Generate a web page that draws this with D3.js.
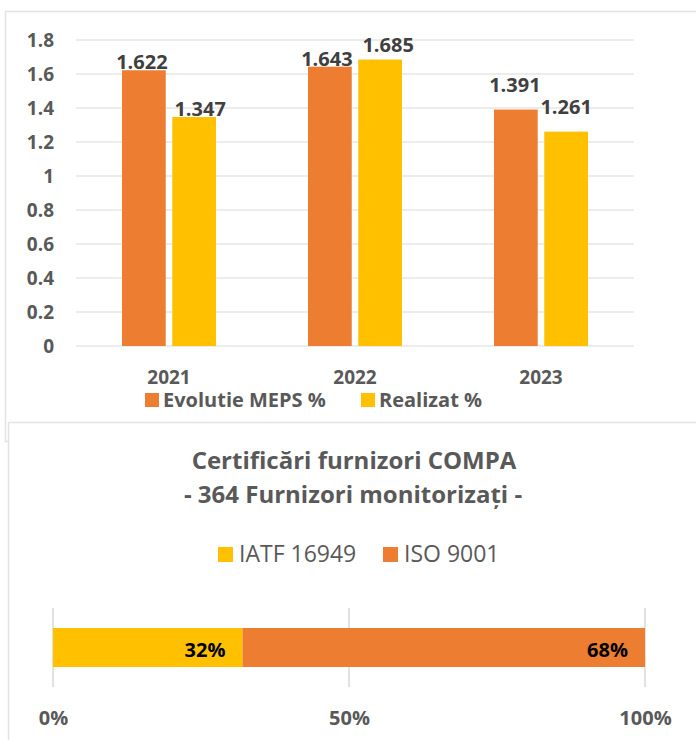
<!DOCTYPE html>
<html>
<head>
<meta charset="utf-8">
<script src="https://cdn.jsdelivr.net/npm/d3@7"></script>
<style>
  body { margin: 0; background: #fff; }
  text { font-family: "Open Sans", sans-serif; }
</style>
</head>
<body>
<script>
// top chart data
const years = ["2021", "2022", "2023"];
const seriesNames = ["Evolutie MEPS %", "Realizat %"];
const meps = [1.622, 1.643, 1.391];
const realizat = [1.347, 1.685, 1.261];
const yTicks = [0, 0.2, 0.4, 0.6, 0.8, 1, 1.2, 1.4, 1.6, 1.8];

// bottom chart data
const certNames = ["IATF 16949", "ISO 9001"];
const certShares = [0.32, 0.68];
const pctTicks = [0, 0.5, 1];

const orange = "#ED7D31", yellow = "#FFC000";
const gray = "#595959", gridColor = "#d9d9d9", frameColor = "#e3e3e3";

// label nudges [series][year]
const labelLift = [[1, 1, 18], [1, 8, 18]];
const labelShift = [[-2, -3, -1], [6, 8, 0]];

const W = 696, H = 740;
const svg = d3.select("body").append("svg")
    .attr("width", W).attr("height", H);

// frame of the top chart
svg.append("rect")
    .attr("x", 5.5).attr("y", 11.5)
    .attr("width", W).attr("height", 430)
    .attr("fill", "#fff").attr("stroke", frameColor).attr("stroke-width", 1.5);

// ---------- column chart ----------
const x0 = d3.scaleBand().domain(years).range([76, 634]);
const x1 = d3.scaleBand().domain(seriesNames).range([0, 94]).paddingInner(0.13);
const y = d3.scaleLinear().domain([0, 1.8]).range([346, 40]);

const colChart = svg.append("g");

colChart.append("g")
    .selectAll("line")
    .data(yTicks)
    .join("line")
    .attr("x1", 76).attr("x2", 634)
    .attr("y1", d => y(d)).attr("y2", d => y(d))
    .attr("stroke", gridColor).attr("stroke-width", 1.2);

const yAxis = colChart.append("g")
    .attr("transform", "translate(54,0)")
    .call(d3.axisLeft(y).tickValues(yTicks).tickSize(0).tickPadding(0).tickFormat(d3.format("")));
yAxis.select(".domain").remove();
yAxis.selectAll(".tick text")
    .attr("fill", gray)
    .style("font-size", "19px").style("font-weight", "bold")
    .attr("dy", "0.36em");

const xAxis = colChart.append("g")
    .attr("transform", "translate(0,346)")
    .call(d3.axisBottom(x0).tickSize(0).tickPadding(0));
xAxis.select(".domain").remove();
xAxis.selectAll(".tick text")
    .attr("fill", gray)
    .style("font-size", "19px").style("font-weight", "bold")
    .attr("y", 38).attr("dy", 0);

const series = [meps, realizat];
const colors = [orange, yellow];

series.forEach((vals, s) => {
    const g = colChart.append("g");
    const off = x0.bandwidth() / 2 - 47;
    g.selectAll("rect")
        .data(vals)
        .join("rect")
        .attr("x", (d, i) => x0(years[i]) + off + x1(seriesNames[s]))
        .attr("y", d => y(d))
        .attr("width", x1.bandwidth())
        .attr("height", d => y(0) - y(d))
        .attr("fill", colors[s]);
    g.selectAll("text")
        .data(vals)
        .join("text")
        .attr("x", (d, i) => x0(years[i]) + off + x1(seriesNames[s]) + x1.bandwidth() / 2 + labelShift[s][i])
        .attr("y", (d, i) => y(d) - labelLift[s][i])
        .attr("text-anchor", "middle")
        .attr("fill", "#404040")
        .style("font-size", "20px").style("font-weight", "bold")
        .text(d => d3.format(".3f")(d));
});

// legend top
const legTop = colChart.append("g");
const legX = [145, 361];
seriesNames.forEach((n, i) => {
    legTop.append("rect")
        .attr("x", legX[i]).attr("y", 393)
        .attr("width", 14).attr("height", 14)
        .attr("fill", colors[i]);
    legTop.append("text")
        .attr("x", legX[i] + 18).attr("y", 407)
        .attr("fill", gray)
        .style("font-size", "20px").style("font-weight", "bold")
        .text(n);
});

// ---------- stacked bar chart ----------
svg.append("rect")
    .attr("x", 8.5).attr("y", 422.5)
    .attr("width", W).attr("height", H)
    .attr("fill", "#fff").attr("stroke", frameColor).attr("stroke-width", 1.5);

const bot = svg.append("g");

bot.append("text")
    .attr("x", 354).attr("y", 469)
    .attr("text-anchor", "middle")
    .attr("fill", gray)
    .style("font-size", "24px").style("font-weight", "bold")
    .text("Certificări furnizori COMPA");
bot.append("text")
    .attr("x", 353).attr("y", 503)
    .attr("text-anchor", "middle")
    .attr("fill", gray)
    .style("font-size", "24px").style("font-weight", "bold")
    .text("- 364 Furnizori monitorizați -");

const certColors = [yellow, orange];
const leg2X = [218, 383];
certNames.forEach((n, i) => {
    bot.append("rect")
        .attr("x", leg2X[i]).attr("y", 547)
        .attr("width", 15).attr("height", 15)
        .attr("fill", certColors[i]);
    bot.append("text")
        .attr("x", leg2X[i] + 21).attr("y", 562)
        .attr("fill", gray)
        .style("font-size", "23px")
        .text(n);
});

const xp = d3.scaleLinear().domain([0, 1]).range([53, 645]);

bot.append("g")
    .selectAll("line")
    .data(pctTicks)
    .join("line")
    .attr("x1", d => xp(d)).attr("x2", d => xp(d))
    .attr("y1", 608).attr("y2", 687)
    .attr("stroke", gridColor).attr("stroke-width", 1.5);

const stacked = d3.cumsum(certShares);
bot.append("g")
    .selectAll("rect")
    .data(certShares)
    .join("rect")
    .attr("x", (d, i) => xp(stacked[i] - d))
    .attr("y", 628)
    .attr("width", d => xp(d) - xp(0))
    .attr("height", 39)
    .attr("fill", (d, i) => certColors[i]);

bot.append("g")
    .selectAll("text")
    .data(certShares)
    .join("text")
    .attr("x", (d, i) => xp(stacked[i]) - 17)
    .attr("y", 657)
    .attr("text-anchor", "end")
    .attr("fill", "#000")
    .style("font-size", "20px").style("font-weight", "bold")
    .text(d => d3.format(".0%")(d));

const pAxis = bot.append("g")
    .attr("transform", "translate(0,687)")
    .call(d3.axisBottom(xp).tickValues(pctTicks).tickSize(0).tickPadding(0).tickFormat(d3.format(".0%")));
pAxis.select(".domain").remove();
pAxis.selectAll(".tick text")
    .attr("fill", gray)
    .style("font-size", "20px").style("font-weight", "bold")
    .attr("y", 38).attr("dy", 0);
</script>
</body>
</html>
